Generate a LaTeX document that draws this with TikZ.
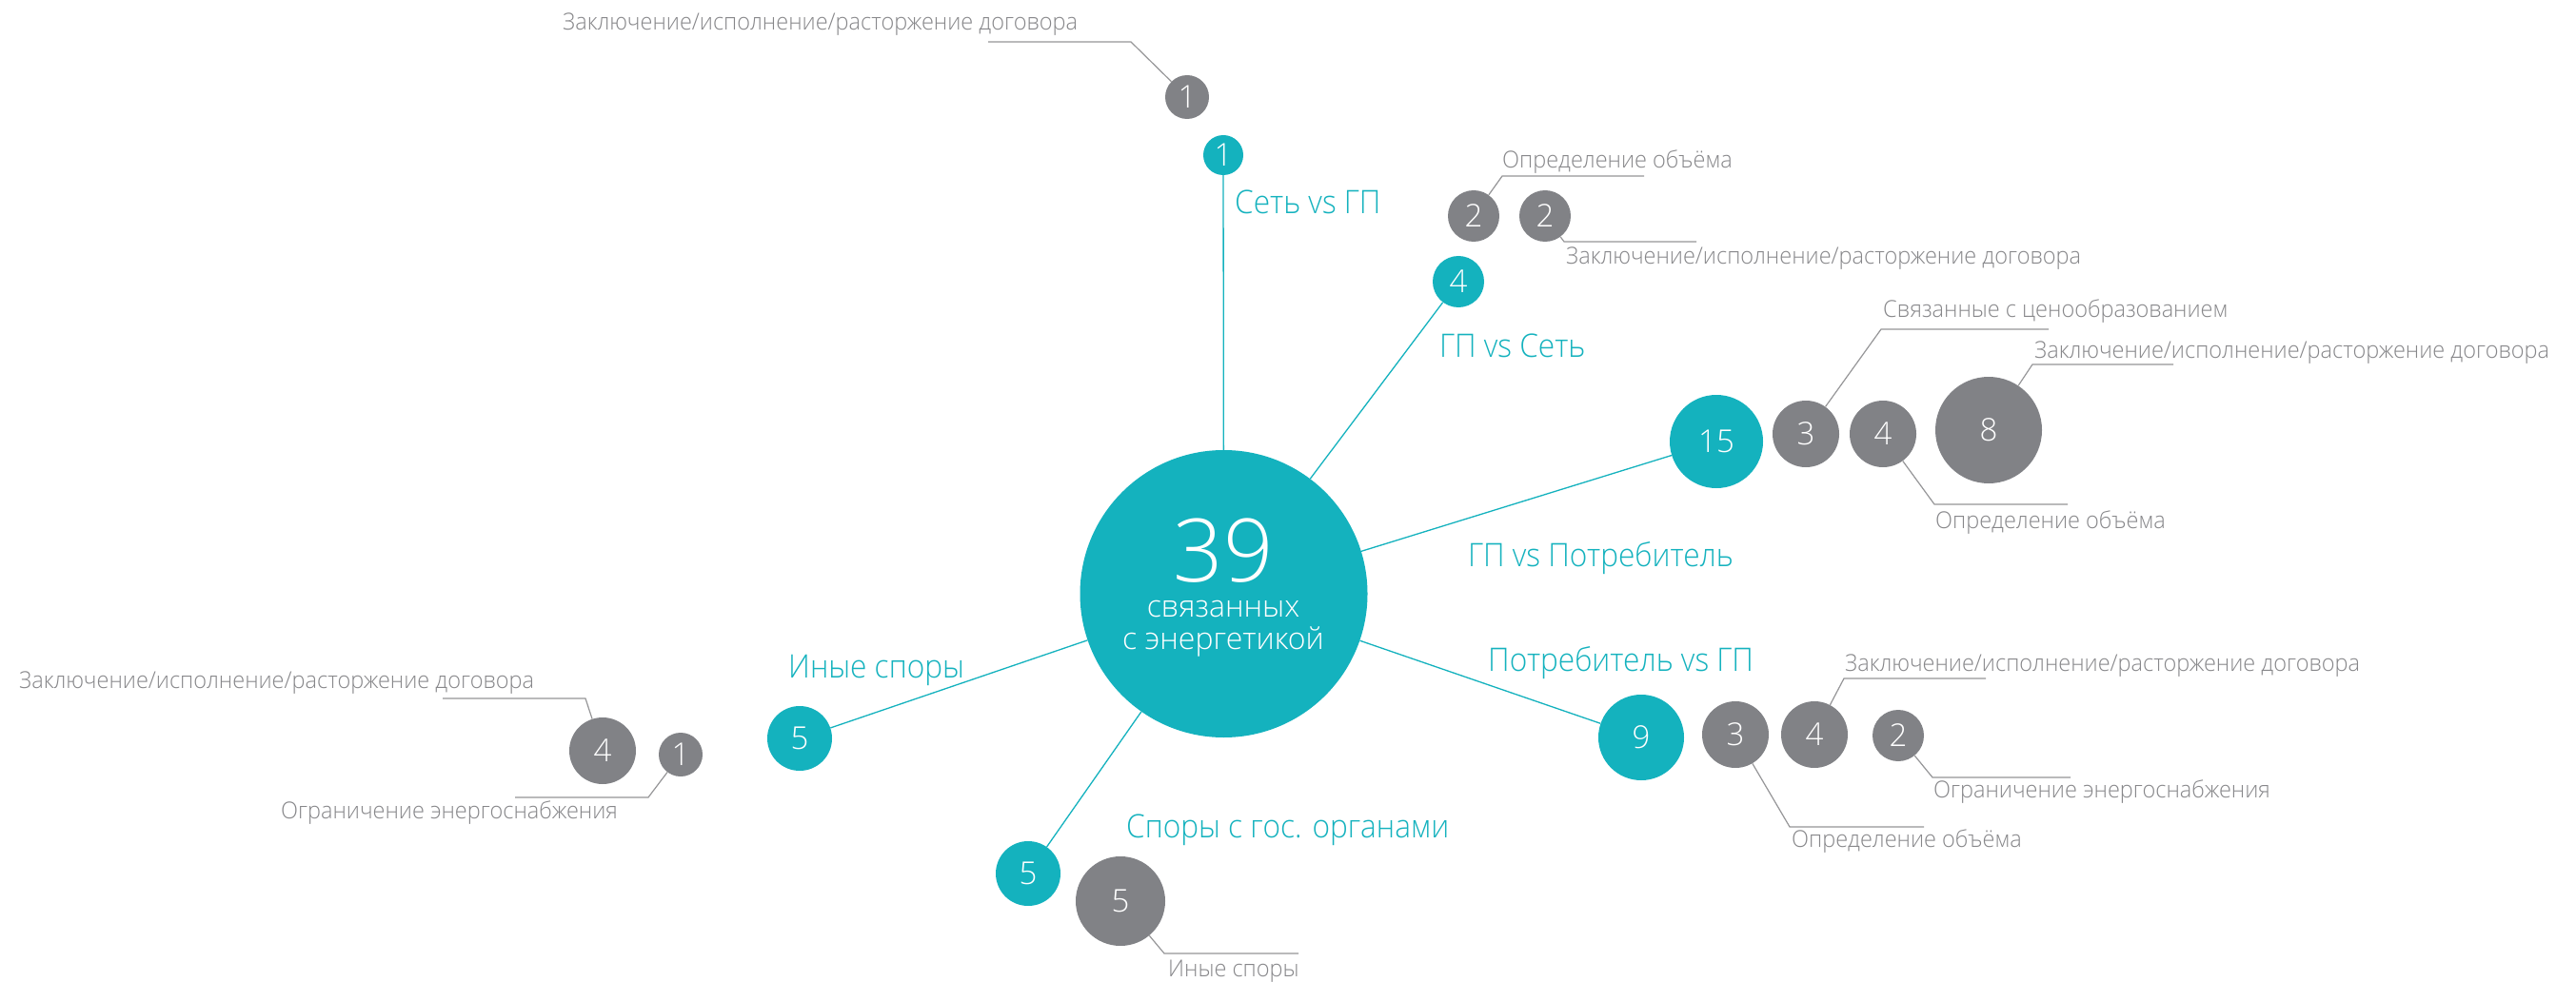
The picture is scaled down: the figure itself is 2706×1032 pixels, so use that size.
\documentclass[tikz,border=0pt]{standalone}
\usepackage{fontspec}
\IfFontExistsTF{Open Sans Light}{%
  \setmainfont{Open Sans Light}
  \newfontfamily\catfont[FakeStretch=0.93]{Open Sans Light}
  \newfontfamily\lblfont[FakeStretch=0.96]{Open Sans Light}}{%
  \setmainfont{Open Sans}
  \newfontfamily\catfont[FakeStretch=0.93]{Open Sans}
  \newfontfamily\lblfont[FakeStretch=0.96]{Open Sans}}
\usepackage{tikz}
\definecolor{sea}{RGB}{20, 178, 190}
\definecolor{stone}{RGB}{129, 130, 134}
\definecolor{ink}{RGB}{135, 135, 138}
\definecolor{wire}{RGB}{150, 150, 152}

\begin{document}
\begin{tikzpicture}[x=1pt, y=-1pt,
  hub/.style={circle, fill=sea, inner sep=0, minimum size=302},
  hubtext/.style={anchor=base, inner sep=0, text=white},
  grp/.style={circle, fill=sea, text=white, inner sep=0, font=\fontsize{33}{33}\selectfont},
  sub/.style={circle, fill=stone, text=white, inner sep=0, font=\fontsize{33}{33}\selectfont},
  cat/.style={anchor=base west, inner sep=0, text=sea, font=\catfont\fontsize{34}{34}\selectfont},
  lbl/.style={anchor=base west, inner sep=0, text=ink, font=\lblfont\fontsize{24.5}{24.5}\selectfont},
  link/.style={sea, line width=1.3},
  lead/.style={wire, line width=1.2}]
  \useasboundingbox[fill=white] (0, 0) rectangle (2706, 1032);

  % centre
  \node[hub] (hub) at (1285.5, 624) {};
  \node[hubtext, font=\fontsize{92}{92}\selectfont] (hubn) at (1285, 611) {39};
  \node[hubtext, align=center, font=\fontsize{32}{34}\selectfont] (hubl) at (1285, 682)
    {связанных\\с энергетикой};

  % categories
  \node[grp, minimum size=42] (t1) at (1285, 163) {1};
  \node[grp, minimum size=54] (t4) at (1532, 296) {4};
  \node[grp, minimum size=98] (t15) at (1803, 464) {15};
  \node[grp, minimum size=90] (t9) at (1724, 775) {9};
  \node[grp, minimum size=68] (t5a) at (840, 776) {5};
  \node[grp, minimum size=68] (t5b) at (1080, 918) {5};

  \draw[link] (hub) -- (t1);
  \draw[link] (hub) -- (t4);
  \draw[link] (hub) -- (t15);
  \draw[link] (hub) -- (t9);
  \draw[link] (hub) -- (t5a);
  \draw[link] (hub) -- (t5b);

  \node[cat] (c1) at (1297, 225) {Сеть vs ГП};
  \node[cat] (c4) at (1512, 375) {ГП vs Сеть};
  \node[cat] (c15) at (1542, 595) {ГП vs Потребитель};
  \node[cat] (c9) at (1563, 705) {Потребитель vs ГП};
  \node[cat] (c5a) at (828, 712) {Иные споры};
  \node[cat] (c5b) at (1183, 880) {Споры с гос. органами};

  % sub-categories
  \node[sub, minimum size=46] (g1) at (1247, 102) {1};
  \node[sub, minimum size=54] (g2a) at (1548, 227) {2};
  \node[sub, minimum size=54] (g2b) at (1623, 227) {2};
  \node[sub, minimum size=70] (g3) at (1897, 456) {3};
  \node[sub, minimum size=70] (g4) at (1978, 456) {4};
  \node[sub, minimum size=112] (g8) at (2089, 452) {8};
  \node[sub, minimum size=70] (h3) at (1823, 772) {3};
  \node[sub, minimum size=70] (h4) at (1906, 772) {4};
  \node[sub, minimum size=54] (h2) at (1994, 773) {2};
  \node[sub, minimum size=70] (l4) at (633, 789) {4};
  \node[sub, minimum size=46] (l1) at (715, 793) {1};
  \node[sub, minimum size=94] (b5) at (1177, 947) {5};

  % leaders
  \coordinate (g1k) at (1188, 44);   \coordinate (g1e) at (1038, 44);
  \coordinate (g2ak) at (1578, 185); \coordinate (g2ae) at (1727, 185);
  \coordinate (g2bk) at (1643, 254); \coordinate (g2be) at (1782, 254);
  \coordinate (g3k) at (1976, 346);  \coordinate (g3e) at (2152, 346);
  \coordinate (g8k) at (2135, 383);  \coordinate (g8e) at (2283, 383);
  \coordinate (g4k) at (2032, 530);  \coordinate (g4e) at (2172, 530);
  \coordinate (h4k) at (1937, 713);  \coordinate (h4e) at (2086, 713);
  \coordinate (h2k) at (2030, 817);  \coordinate (h2e) at (2175, 817);
  \coordinate (h3k) at (1880, 869);  \coordinate (h3e) at (2021, 869);
  \coordinate (l4k) at (615, 734);   \coordinate (l4e) at (465, 734);
  \coordinate (l1k) at (681, 838);   \coordinate (l1e) at (541, 838);
  \coordinate (b5k) at (1223, 1002); \coordinate (b5e) at (1364, 1002);

  \draw[lead] (g1) -- (g1k) -- (g1e);
  \draw[lead] (g2a) -- (g2ak) -- (g2ae);
  \draw[lead] (g2b) -- (g2bk) -- (g2be);
  \draw[lead] (g3) -- (g3k) -- (g3e);
  \draw[lead] (g8) -- (g8k) -- (g8e);
  \draw[lead] (g4) -- (g4k) -- (g4e);
  \draw[lead] (h4) -- (h4k) -- (h4e);
  \draw[lead] (h2) -- (h2k) -- (h2e);
  \draw[lead] (h3) -- (h3k) -- (h3e);
  \draw[lead] (l4) -- (l4k) -- (l4e);
  \draw[lead] (l1) -- (l1k) -- (l1e);
  \draw[lead] (b5) -- (b5k) -- (b5e);

  \node[lbl] (g1t) at (591, 32) {Заключение/исполнение/расторжение договора};
  \node[lbl] (g2at) at (1578, 177) {Определение объёма};
  \node[lbl] (g2bt) at (1645, 278) {Заключение/исполнение/расторжение договора};
  \node[lbl] (g3t) at (1978, 333) {Связанные с ценообразованием};
  \node[lbl] (g8t) at (2137, 376) {Заключение/исполнение/расторжение договора};
  \node[lbl] (g4t) at (2033, 555) {Определение объёма};
  \node[lbl] (h4t) at (1938, 705) {Заключение/исполнение/расторжение договора};
  \node[lbl] (h2t) at (2031, 838) {Ограничение энергоснабжения};
  \node[lbl] (h3t) at (1882, 890) {Определение объёма};
  \node[lbl] (l4t) at (20, 723) {Заключение/исполнение/расторжение договора};
  \node[lbl] (l1t) at (295, 860) {Ограничение энергоснабжения};
  \node[lbl] (b5t) at (1227, 1026) {Иные споры};
\end{tikzpicture}
\end{document}
